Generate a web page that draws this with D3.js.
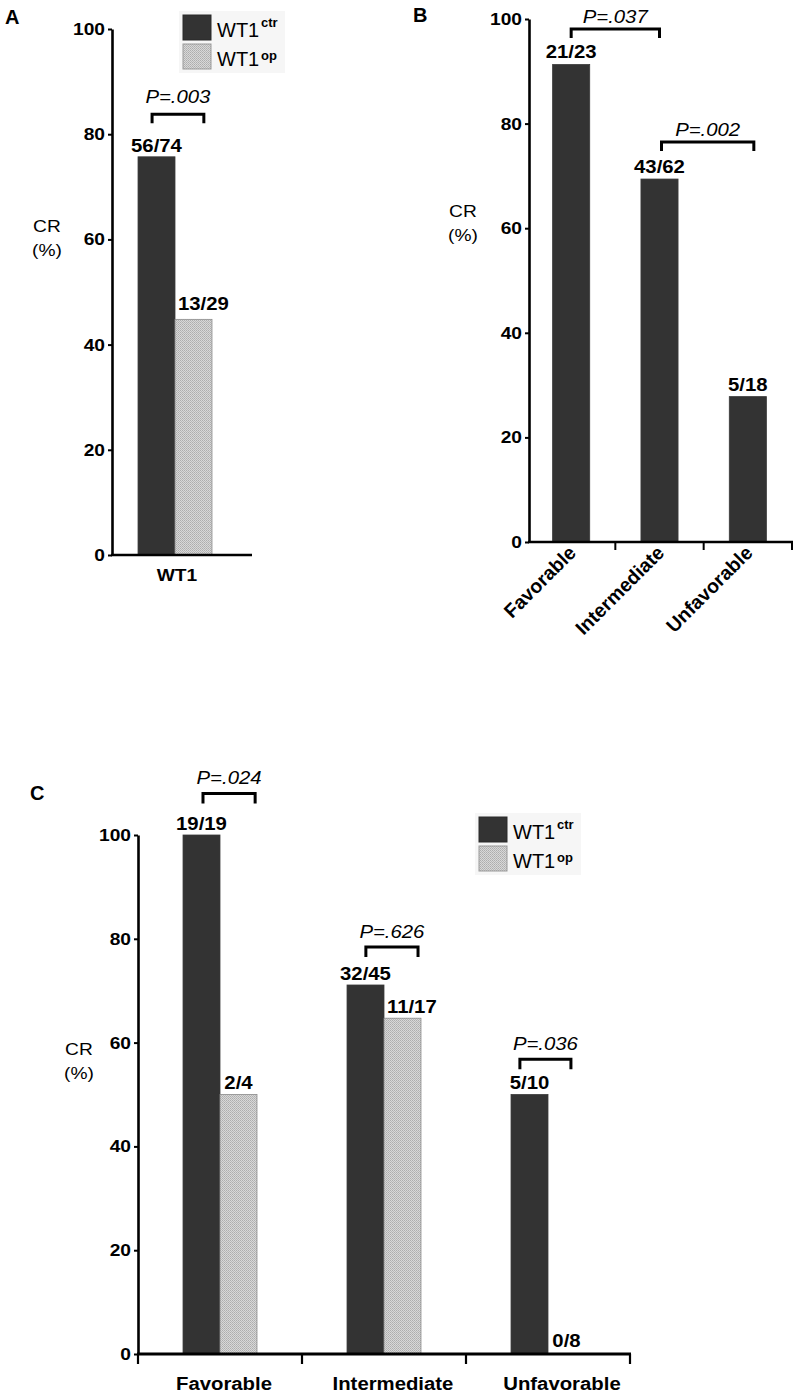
<!DOCTYPE html>
<html><head><meta charset="utf-8">
<script src="https://cdn.jsdelivr.net/npm/d3@7"></script>
<style>
body{margin:0;background:#fff}
svg text{font-family:"Liberation Sans",Arial,Helvetica,sans-serif;fill:#000}
.sx{transform-box:fill-box;transform:scaleX(1.13)}
.sx.ae{transform-origin:right center}
.sx.as{transform-origin:left center}
.sx.am{transform-origin:center center}
</style></head><body>
<svg id="chart" width="798" height="1396"></svg>
<script>
// ---------- DATA ----------
const yTicks = [0, 20, 40, 60, 80, 100];
const seriesKeys = ["ctr", "op"];
const legendBase = "WT1";
const legendSup = ["ctr", "op"];

const aCategories = ["WT1"];
const aCtr = [75.7];
const aOp = [44.8];
const aCtrLabels = ["56/74"];
const aOpLabels = ["13/29"];
const aPvalues = ["P=.003"];

const bCategories = ["Favorable", "Intermediate", "Unfavorable"];
const bValues = [91.3, 69.4, 27.8];
const bLabels = ["21/23", "43/62", "5/18"];
const bPvalues = ["P=.037", "P=.002"];

const cCategories = ["Favorable", "Intermediate", "Unfavorable"];
const cCtr = [100, 71.1, 50];
const cOp = [50, 64.7, 0];
const cCtrLabels = ["19/19", "32/45", "5/10"];
const cOpLabels = ["2/4", "11/17", "0/8"];
const cPvalues = ["P=.024", "P=.626", "P=.036"];

// ---------- STYLE ----------
const DARK = "#333333";
const svg = d3.select("#chart");
const defs = svg.append("defs");
const pat = defs.append("pattern").attr("id", "dots").attr("patternUnits", "userSpaceOnUse")
  .attr("width", 2).attr("height", 2);
pat.append("rect").attr("width", 2).attr("height", 2).attr("fill", "#d8d8d8");
pat.append("rect").attr("width", 1).attr("height", 1).attr("fill", "#adadad");
pat.append("rect").attr("x", 1).attr("y", 1).attr("width", 1).attr("height", 1).attr("fill", "#b8b8b8");

function fillFor(k) { return k === "ctr" ? DARK : "url(#dots)"; }
function strokeFor(k) { return k === "ctr" ? "#3a3a3a" : "#8a8a8a"; }

function sx(sel, anchor) {
  const cls = anchor === "end" ? "ae" : anchor === "start" ? "as" : "am";
  sel.classed("sx", true).classed(cls, true);
  return sel;
}

function panelLetter(t, x, y) {
  svg.append("text").attr("x", x).attr("y", y).attr("font-size", 20).attr("font-weight", "bold").text(t);
}

function yLabel(cx, by) {
  const t1 = svg.append("text").attr("x", cx).attr("y", by).attr("text-anchor", "middle")
    .attr("font-size", 17).text("CR");
  const t2 = svg.append("text").attr("x", cx).attr("y", by + 24).attr("text-anchor", "middle")
    .attr("font-size", 17).text("(%)");
  sx(t1, "middle"); sx(t2, "middle");
}

function yAxis(y, xPos) {
  const g = svg.append("g").attr("transform", `translate(${xPos},0)`)
    .call(d3.axisLeft(y).tickValues(yTicks).tickSize(4).tickSizeOuter(0).tickPadding(3));
  g.select(".domain").attr("stroke", "#000").attr("stroke-width", 2.6);
  g.selectAll(".tick line").attr("stroke", "#000").attr("stroke-width", 2);
  g.selectAll(".tick text").attr("font-size", 17).attr("font-weight", "bold")
    .attr("font-family", "Liberation Sans, Arial, sans-serif").attr("fill", "#000")
    .classed("sx", true).classed("ae", true);
  return g;
}

function xAxisLine(x0, x1, yPos, w) {
  svg.append("line").attr("x1", x0 - 1).attr("x2", x1).attr("y1", yPos).attr("y2", yPos)
    .attr("stroke", "#000").attr("stroke-width", w);
}

function bracket(x1, x2, yTop, leg, label, gap) {
  svg.append("path")
    .attr("d", `M${x1},${yTop + leg}V${yTop}H${x2}V${yTop + leg}`)
    .attr("fill", "none").attr("stroke", "#000").attr("stroke-width", 3);
  const t = svg.append("text").attr("x", (x1 + x2) / 2).attr("y", yTop - gap)
    .attr("text-anchor", "middle").attr("font-size", 18).attr("font-style", "italic")
    .text(label);
  sx(t, "middle");
}

function barLabel(text, cx, barLeft, topY, isOp) {
  const t = svg.append("text").attr("x", cx).attr("y", topY - 5)
    .attr("text-anchor", "middle").attr("font-size", 18).attr("font-weight", "bold").text(text);
  sx(t, "middle");
  if (isOp) {
    const w = t.node().getComputedTextLength() * 1.13;
    const left = Math.max(barLeft + 3, cx - w / 2);
    t.attr("x", left + w / 2);
  }
}

function legend(x, y) {
  svg.append("rect").attr("x", x - 4).attr("y", y - 4).attr("width", 106).attr("height", 62)
    .attr("fill", "#f6f6f6");
  seriesKeys.forEach((k, i) => {
    const yy = y + i * 29;
    svg.append("rect").attr("x", x).attr("y", yy).attr("width", 28).attr("height", 25)
      .attr("fill", fillFor(k)).attr("stroke", k === "ctr" ? "#2a2a2a" : "#9a9a9a").attr("stroke-width", 1);
    svg.append("text").attr("x", x + 34).attr("y", yy + 22).attr("font-size", 20)
      .attr("fill", "#222").text(legendBase);
    svg.append("text").attr("x", x + 78).attr("y", yy + (k === "ctr" ? 12 : 16)).attr("font-size", 13)
      .attr("font-weight", "bold").attr("fill", "#222").text(legendSup[i]);
  });
}

// ---------- PANEL A ----------
(function () {
  const y = d3.scaleLinear().domain([0, 100]).range([555, 29]);
  const x = d3.scaleBand().domain(aCategories).range([112, 238]);
  const gw = x.bandwidth() * 0.587;
  const xs = d3.scaleBand().domain(seriesKeys).range([0, gw]);
  const rows = aCategories.map((c, i) => ({ c, ctr: aCtr[i], op: aOp[i], lctr: aCtrLabels[i], lop: aOpLabels[i] }));
  rows.forEach(r => {
    const g0 = x(r.c) + (x.bandwidth() - gw) / 2;
    seriesKeys.forEach(k => {
      const bx = g0 + xs(k);
      svg.append("rect").attr("x", bx).attr("y", y(r[k])).attr("width", xs.bandwidth())
        .attr("height", y(0) - y(r[k])).attr("fill", fillFor(k)).attr("stroke", strokeFor(k)).attr("stroke-width", 0.8);
      barLabel(k === "ctr" ? r.lctr : r.lop, bx + xs.bandwidth() / 2, bx, y(r[k]) - (k === "op" ? 4 : 0), k === "op");
    });
    const bw = xs.bandwidth();
    bracket(g0 + 0.38 * bw, g0 + 1.78 * bw, y(83.8), 9, aPvalues[0], 11);
    const t = svg.append("text").attr("x", x(r.c) + x.bandwidth() / 2 + 2).attr("y", 581)
      .attr("text-anchor", "middle").attr("font-size", 17).attr("font-weight", "bold").text(r.c);
    sx(t, "middle");
  });
  xAxisLine(112, 252, y(0), 2.6);
  yAxis(y, 112);
  yLabel(47, 232);
  legend(183, 15);
  panelLetter("A", 5, 24);
})();

// ---------- PANEL B ----------
(function () {
  const y = d3.scaleLinear().domain([0, 100]).range([542, 19]);
  const x = d3.scaleBand().domain(bCategories).range([527, 792]);
  const bw = x.bandwidth() * 0.42;
  const cx = c => x(c) + x.bandwidth() / 2;
  bCategories.forEach((c, i) => {
    const bx = cx(c) - bw / 2;
    svg.append("rect").attr("x", bx).attr("y", y(bValues[i])).attr("width", bw)
      .attr("height", y(0) - y(bValues[i])).attr("fill", DARK).attr("stroke", strokeFor("ctr")).attr("stroke-width", 0.8);
    barLabel(bLabels[i], cx(c), bx, y(bValues[i]) - 1, false);
    svg.append("line").attr("x1", x(c) + x.bandwidth()).attr("x2", x(c) + x.bandwidth())
      .attr("y1", y(0)).attr("y2", y(0) + 8).attr("stroke", "#000").attr("stroke-width", 2);
    svg.append("text").attr("transform", `translate(${cx(c) + 6},${y(0) + 12}) rotate(-45)`)
      .attr("text-anchor", "end").attr("font-size", 19.5).attr("font-weight", "bold").text(c);
  });
  bracket(cx(bCategories[0]), cx(bCategories[1]), y(98.1), 9, bPvalues[0], 6);
  bracket(cx(bCategories[1]) + 2, cx(bCategories[2]) + 6, y(76.5), 9, bPvalues[1], 6);
  xAxisLine(529, 793, y(0), 2.6);
  yAxis(y, 529);
  yLabel(463, 217);
  panelLetter("B", 413, 22);
})();

// ---------- PANEL C ----------
(function () {
  const y = d3.scaleLinear().domain([0, 100]).range([1354, 835]);
  const x = d3.scaleBand().domain(cCategories).range([138, 630]);
  const gw = x.bandwidth() * 0.451;
  const xs = d3.scaleBand().domain(seriesKeys).range([0, gw]);
  const bw = xs.bandwidth();
  const rows = cCategories.map((c, i) => ({ c, ctr: cCtr[i], op: cOp[i], lctr: cCtrLabels[i], lop: cOpLabels[i] }));
  const brk = [[0.54, 1.95, 108], [0.51, 1.92, 78.4], [0.24, 1.62, 56.8]];
  rows.forEach((r, i) => {
    const g0 = x(r.c) + (x.bandwidth() - gw) / 2;
    seriesKeys.forEach(k => {
      const bx = g0 + xs(k);
      if (r[k] > 0) {
        svg.append("rect").attr("x", bx).attr("y", y(r[k])).attr("width", bw)
          .attr("height", y(0) - y(r[k])).attr("fill", fillFor(k)).attr("stroke", strokeFor(k)).attr("stroke-width", 0.8);
      }
      barLabel(k === "ctr" ? r.lctr : r.lop, bx + bw / 2, bx, y(r[k]) - (k === "op" && r[k] === 0 ? 2 : 0), k === "op");
    });
    bracket(g0 + brk[i][0] * bw, g0 + brk[i][1] * bw, y(brk[i][2]), 10, cPvalues[i], 9);
    svg.append("line").attr("x1", x(r.c) + x.bandwidth()).attr("x2", x(r.c) + x.bandwidth())
      .attr("y1", y(0)).attr("y2", y(0) + 10).attr("stroke", "#000").attr("stroke-width", 2.2);
    const t = svg.append("text").attr("x", x(r.c) + x.bandwidth() / 2 + 4 + i * 5).attr("y", 1390)
      .attr("text-anchor", "middle").attr("font-size", 18).attr("font-weight", "bold").text(r.c);
    sx(t, "middle");
  });
  xAxisLine(138, 631, y(0), 3);
  svg.append("line").attr("x1", 138).attr("x2", 138).attr("y1", y(0)).attr("y2", y(0) + 10)
    .attr("stroke", "#000").attr("stroke-width", 2.2);
  yAxis(y, 138);
  yLabel(79, 1055);
  legend(479, 817);
  panelLetter("C", 30, 800);
})();
</script>
</body></html>
